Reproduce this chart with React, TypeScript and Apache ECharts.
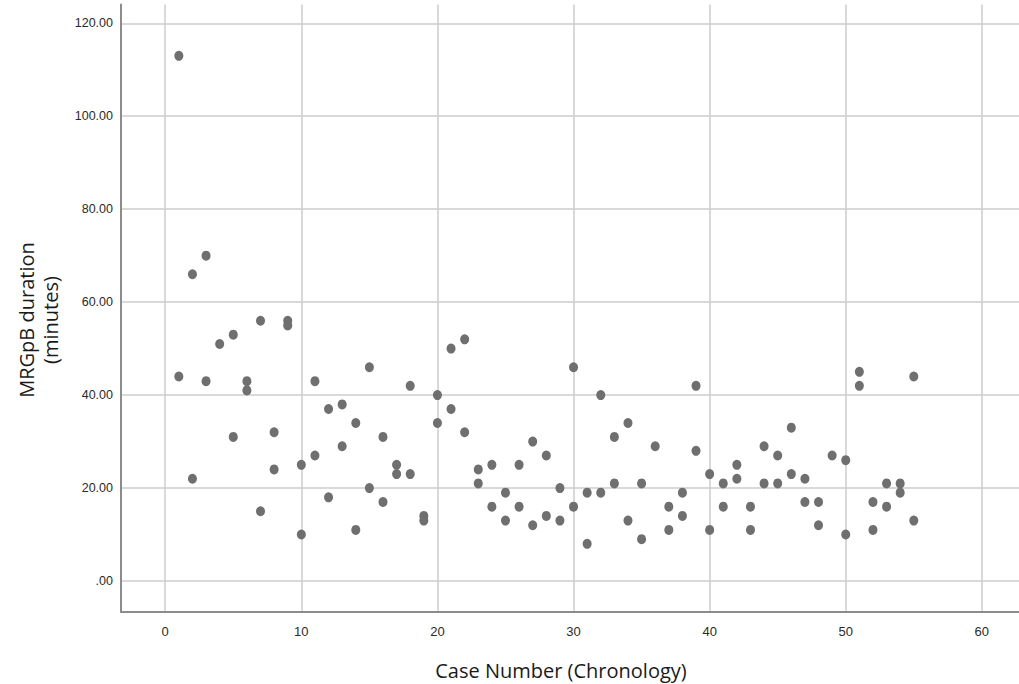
import React, { useEffect, useRef } from "react";
import * as echarts from "echarts";

// Case numbers (chronology)
const caseNumbers = [
  1, 2, 3, 4, 5, 6, 7, 8, 9, 10, 11, 12, 13, 14, 15, 16, 17, 18, 19, 20,
  21, 22, 23, 24, 25, 26, 27, 28, 29, 30, 31, 32, 33, 34, 35, 36, 37, 38, 39, 40,
  41, 42, 43, 44, 45, 46, 47, 48, 49, 50, 51, 52, 53, 54, 55,
];

// MRGpB duration (minutes) - first and second measurement per case
const durationFirst = [
  113, 66, 70, 51, 53, 43, 56, 32, 56, 25, 43, 37, 38, 34, 46, 31, 25, 42, 14, 40,
  50, 52, 24, 25, 19, 25, 30, 27, 20, 46, 19, 40, 31, 34, 21, 29, 16, 19, 42, 23,
  21, 25, 16, 29, 27, 33, 22, 17, 27, 26, 45, 17, 21, 21, 44,
];
const durationSecond: (number | null)[] = [
  44, 22, 43, null, 31, 41, 15, 24, 55, 10, 27, 18, 29, 11, 20, 17, 23, 23, 13, 34,
  37, 32, 21, 16, 13, 16, 12, 14, 13, 16, 8, 19, 21, 13, 9, null, 11, 14, 28, 11,
  16, 22, 11, 21, 21, 23, 17, 12, null, 10, 42, 11, 16, 19, 13,
];

const xTitle = "Case Number (Chronology)";
const yTitle = "MRGpB duration\n(minutes)";

const tickFont = "'Liberation Sans', Arial, sans-serif";
const titleFont = "'Open Sans', 'Noto Sans', sans-serif";

export default function App() {
  const ref = useRef<HTMLDivElement>(null);

  useEffect(() => {
    if (!ref.current) return;
    const chart = echarts.init(ref.current, null, { renderer: "svg" });

    const points: [number, number][] = [];
    caseNumbers.forEach((c, i) => {
      points.push([c, durationFirst[i]]);
      const s = durationSecond[i];
      if (s !== null) points.push([c, s]);
    });

    const gridLine = { color: "#cdcdcd", width: 1.5 };
    const axisLineStyle = { color: "#8c8c8c", width: 2 };

    chart.setOption({
      animation: false,
      backgroundColor: "#ffffff",
      grid: { left: 121, right: 0, top: 4.5, bottom: 72, containLabel: false },
      xAxis: {
        type: "value",
        min: -3.25,
        max: 62.73,
        splitNumber: 6,
        axisLine: { show: true, onZero: false, lineStyle: axisLineStyle },
        axisTick: { show: false },
        axisLabel: {
          showMinLabel: false,
          showMaxLabel: false,
          color: "#2a2a2a",
          fontFamily: tickFont,
          fontSize: 13,
          margin: 13,
        },
        splitLine: { show: true, showMinLine: false, showMaxLine: false, lineStyle: gridLine },
      },
      yAxis: {
        type: "value",
        min: -6.67,
        max: 124.04,
        splitNumber: 6,
        axisLine: { show: true, onZero: false, lineStyle: axisLineStyle },
        axisTick: { show: false },
        axisLabel: {
          showMinLabel: false,
          showMaxLabel: false,
          color: "#2a2a2a",
          fontFamily: tickFont,
          fontSize: 12.5,
          margin: 8,
          formatter: (v: number) => (v === 0 ? ".00" : v.toFixed(2)),
        },
        splitLine: { show: true, showMinLine: false, showMaxLine: false, lineStyle: gridLine },
      },
      graphic: [
        {
          type: "text",
          x: 561,
          y: 670,
          style: {
            text: xTitle,
            fontFamily: titleFont,
            fontSize: 20,
            fill: "#1a1a1a",
            align: "center",
            verticalAlign: "middle",
          },
        },
        {
          type: "text",
          x: 38,
          y: 320,
          rotation: Math.PI / 2,
          style: {
            text: yTitle,
            fontFamily: titleFont,
            fontSize: 20,
            lineHeight: 24,
            fill: "#1a1a1a",
            align: "center",
            verticalAlign: "middle",
          },
        },
      ],
      series: [
        {
          type: "scatter",
          data: points,
          symbol: "circle",
          symbolSize: [9, 10],
          itemStyle: { color: "#6f6f6f", opacity: 1 },
        },
      ],
    });

    return () => chart.dispose();
  }, []);

  return (
    <div
      ref={ref}
      style={{ position: "fixed", left: 0, top: 0, width: 1019, height: 684 }}
    />
  );
}
